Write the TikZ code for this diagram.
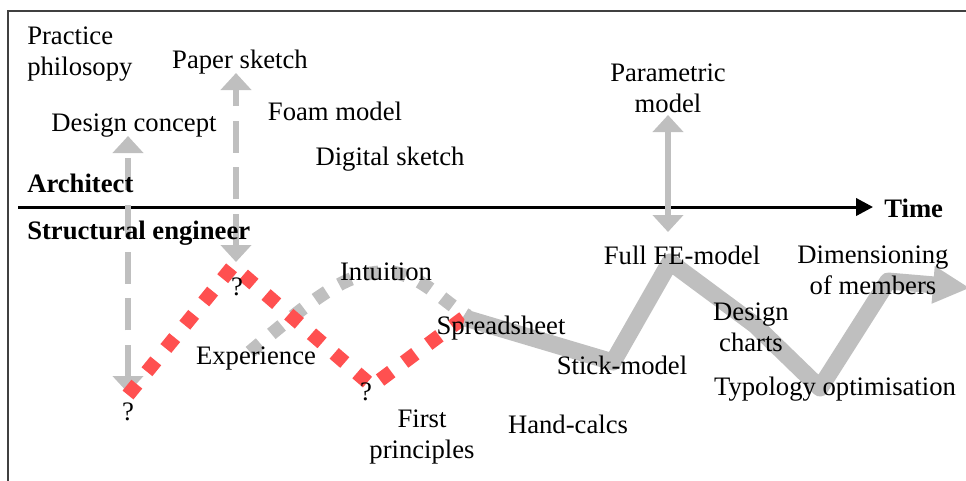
\documentclass[tikz,border=0pt]{standalone}
\usepackage{fontspec}
\setmainfont{Liberation Serif}
\usetikzlibrary{arrows.meta}
\definecolor{lgray}{HTML}{BFBFBF}
\definecolor{dred}{HTML}{FF5050}
\definecolor{frame}{HTML}{404040}
\begin{document}
\begin{tikzpicture}[x=0.75pt,y=-0.75pt,
  lbl/.style={inner sep=0pt,font=\fontsize{20}{23}\selectfont},
  lblb/.style={lbl,font=\fontsize{20}{23}\selectfont\bfseries},
  garrow/.style={draw=lgray,line width=4.5pt,{Triangle[length=12.75pt,width=22.5pt]}-{Triangle[length=12.75pt,width=22.5pt]}},
  gdash/.style={garrow,dash pattern=on 24pt off 11pt},
  reddots/.style={draw=dred,line width=10.5pt,dash pattern=on 10.5pt off 12pt},
  graydots/.style={draw=lgray,line width=10pt,dash pattern=on 10pt off 11pt},
  thick gray/.style={draw=lgray,line width=12.75pt,line join=round,-{Triangle[length=27.75pt,width=26.25pt]}}]
\useasboundingbox (0,0) rectangle (966,480);
% frame
\draw[frame,line width=1.5pt] (8,500) -- (8,11) -- (990,11);
% time axis
\coordinate (t0) at (18,207);
\coordinate (t1) at (873,207);
\draw[line width=2.25pt,-{Triangle[length=12.75pt,width=13pt]}] (t0) -- (t1);
% vertical arrows
\coordinate (dcb) at (128,393);
\coordinate (dct) at (128,136);
\coordinate (psb) at (236,262);
\coordinate (pst) at (236,73);
\coordinate (pmt) at (668,115);
\coordinate (pmb) at (668,232);
\draw[gdash] (dcb) -- (dct);
\draw[gdash] (psb) -- (pst);
\draw[garrow] (pmt) -- (pmb);
% gray dotted curve
\coordinate (g0) at (250,352);
\coordinate (g1) at (385,272);
\coordinate (g2) at (468,316);
\draw[graydots] (g0) .. controls (320,292) and (350,272) .. (g1) .. controls (420,272) and (440,300) .. (g2);
% red dotted
\coordinate (r0) at (128,395);
\coordinate (r1) at (233,266);
\coordinate (r2) at (372,386);
\coordinate (r3) at (466,316);
\draw[reddots] (r0) -- (r1) -- (r2) -- (r3);
% thick gray path
\coordinate (s0) at (465,318);
\coordinate (s1) at (613,362);
\coordinate (s2) at (670,262);
\coordinate (s3) at (755,325);
\coordinate (s4) at (820,388);
\coordinate (s5) at (888,281);
\coordinate (s6) at (970,288);
\draw[thick gray] (s0) -- (s1) -- (s2) -- (s3) -- (s4) -- (s5) -- (s6);
% labels
\node[lbl,anchor=west,align=left] (prac) at (27,54) {Practice\\philosopy};
\node[lbl] (paper) at (240,62) {Paper sketch};
\node[lbl] (dconcept) at (134,126) {Design concept};
\node[lbl] (foam) at (335,111) {Foam model};
\node[lbl] (digital) at (390,159) {Digital sketch};
\node[lblb,anchor=west] (arch) at (27,183) {Architect};
\node[lblb,anchor=west] (time) at (884,208) {Time};
\node[lblb,anchor=west] (struct) at (27,233) {Structural engineer};
\node[lbl,align=center] (param) at (668,88) {Parametric\\model};
\node[lbl] (exp) at (256,358) {Experience};
\node[lbl] (intu) at (386,272) {Intuition};
\node[lbl] (spread) at (501,328) {Spreadsheet};
\node[lbl] (stick) at (622,365) {Stick-model};
\node[lbl,align=center] (first) at (422,437) {First\\principles};
\node[lbl] (hand) at (568,424) {Hand-calcs};
\node[lbl] (fullfe) at (682,255) {Full FE-model};
\node[lbl,align=center] (dim) at (873,270) {Dimensioning\\of members};
\node[lbl,align=center] (charts) at (751,327) {Design\\charts};
\node[lbl] (typo) at (835,389) {Typology optimisation};
\node[lbl] (q1) at (128,412) {?};
\node[lbl] (q2) at (237,287) {?};
\node[lbl] (q3) at (366,392) {?};
\end{tikzpicture}
\end{document}
